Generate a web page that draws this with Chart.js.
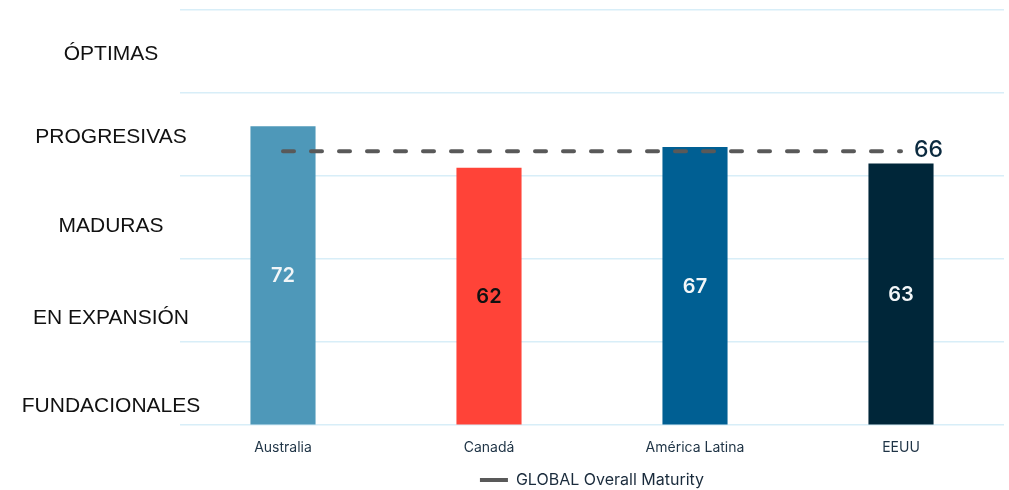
<!DOCTYPE html>
<html>
<head>
<meta charset="utf-8">
<script src="https://cdn.jsdelivr.net/npm/chart.js@4.4.1/dist/chart.umd.min.js"></script>
<style>
  html, body { margin: 0; padding: 0; background: #ffffff; }
  #wrap { width: 1009px; height: 490px; position: relative; }
</style>
</head>
<body>
<div id="wrap"><canvas id="maturityChart"></canvas></div>
<script>
// Data
const regions = ['Australia', 'Canadá', 'América Latina', 'EEUU'];
const scores = [72, 62, 67, 63];
const barColors = ['#4e98b9', '#ff4338', '#005f93', '#002639'];
const scoreLabelColors = ['#f2f6f8', '#111111', '#f2f6f8', '#f2f6f8'];
const globalScore = [66, 66, 66, 66];
const levelNames = ['ÓPTIMAS', 'PROGRESIVAS', 'MADURAS', 'EN EXPANSIÓN', 'FUNDACIONALES'];
const levelValues = [89.3, 69.3, 48, 25.8, 4.5];

// y level names on the left
const levelLabelsPlugin = {
    id: 'levelLabels',
    afterDraw(chart) {
        const ctx = chart.ctx;
        const y = chart.scales.y;
        ctx.save();
        ctx.font = '21px "Liberation Sans", Arial, sans-serif';
        ctx.fillStyle = '#111111';
        ctx.textAlign = 'center';
        ctx.textBaseline = 'middle';
        levelNames.forEach((name, i) => {
            ctx.fillText(name, 111, y.getPixelForValue(levelValues[i]));
        });
        ctx.restore();
    }
};

// values inside bars and the global value at the end of the line
const valueLabelsPlugin = {
    id: 'valueLabels',
    afterDatasetsDraw(chart) {
        const ctx = chart.ctx;
        ctx.save();
        ctx.textAlign = 'center';
        ctx.textBaseline = 'middle';
        ctx.font = '600 20px Inter, sans-serif';
        chart.getDatasetMeta(1).data.forEach((bar, i) => {
            ctx.fillStyle = scoreLabelColors[i];
            ctx.fillText(scores[i], bar.x, (bar.y + bar.base) / 2 + 1);
        });
        const line = chart.getDatasetMeta(0).data;
        const last = line[line.length - 1];
        ctx.font = '500 23px Inter, sans-serif';
        ctx.fillStyle = '#0b2a3f';
        ctx.textAlign = 'left';
        ctx.fillText(globalScore[globalScore.length - 1], last.x + 13, last.y - 1);
        ctx.restore();
    }
};

new Chart(document.getElementById('maturityChart'), {
    data: {
        labels: regions,
        datasets: [{
            type: 'line',
            label: 'GLOBAL Overall Maturity',
            data: globalScore,
            borderColor: '#595959',
            backgroundColor: '#595959',
            borderWidth: 4,
            borderDash: [11, 17],
            borderCapStyle: 'round',
            pointRadius: 0,
            fill: false,
            order: 0
        }, {
            type: 'bar',
            label: 'Puntuación',
            data: scores,
            backgroundColor: barColors,
            borderWidth: 0,
            barPercentage: 0.316,
            categoryPercentage: 1,
            order: 1
        }]
    },
    options: {
        responsive: true,
        maintainAspectRatio: false,
        animation: false,
        layout: { padding: { top: 10, right: 5, left: 0, bottom: -8 } },
        plugins: {
            tooltip: { enabled: false },
            legend: {
                position: 'bottom',
                fullSize: false,
                labels: {
                    filter: item => item.datasetIndex === 0,
                    usePointStyle: true,
                    pointStyle: 'line',
                    pointStyleWidth: 28,
                    color: '#1a2b3c',
                    font: { family: 'Inter, sans-serif', size: 16 },
                    padding: 10
                }
            }
        },
        scales: {
            x: {
                grid: { display: false },
                border: { display: false },
                ticks: {
                    color: '#1f3446',
                    font: { family: 'Inter, sans-serif', size: 14 },
                    padding: 6
                }
            },
            y: {
                min: 0,
                max: 100,
                afterFit: scale => { scale.width = 180; },
                ticks: { display: false, stepSize: 20 },
                border: { display: false },
                grid: { color: '#d8eef8', lineWidth: 1.5, drawTicks: false }
            }
        }
    },
    plugins: [levelLabelsPlugin, valueLabelsPlugin]
});
</script>
</body>
</html>
